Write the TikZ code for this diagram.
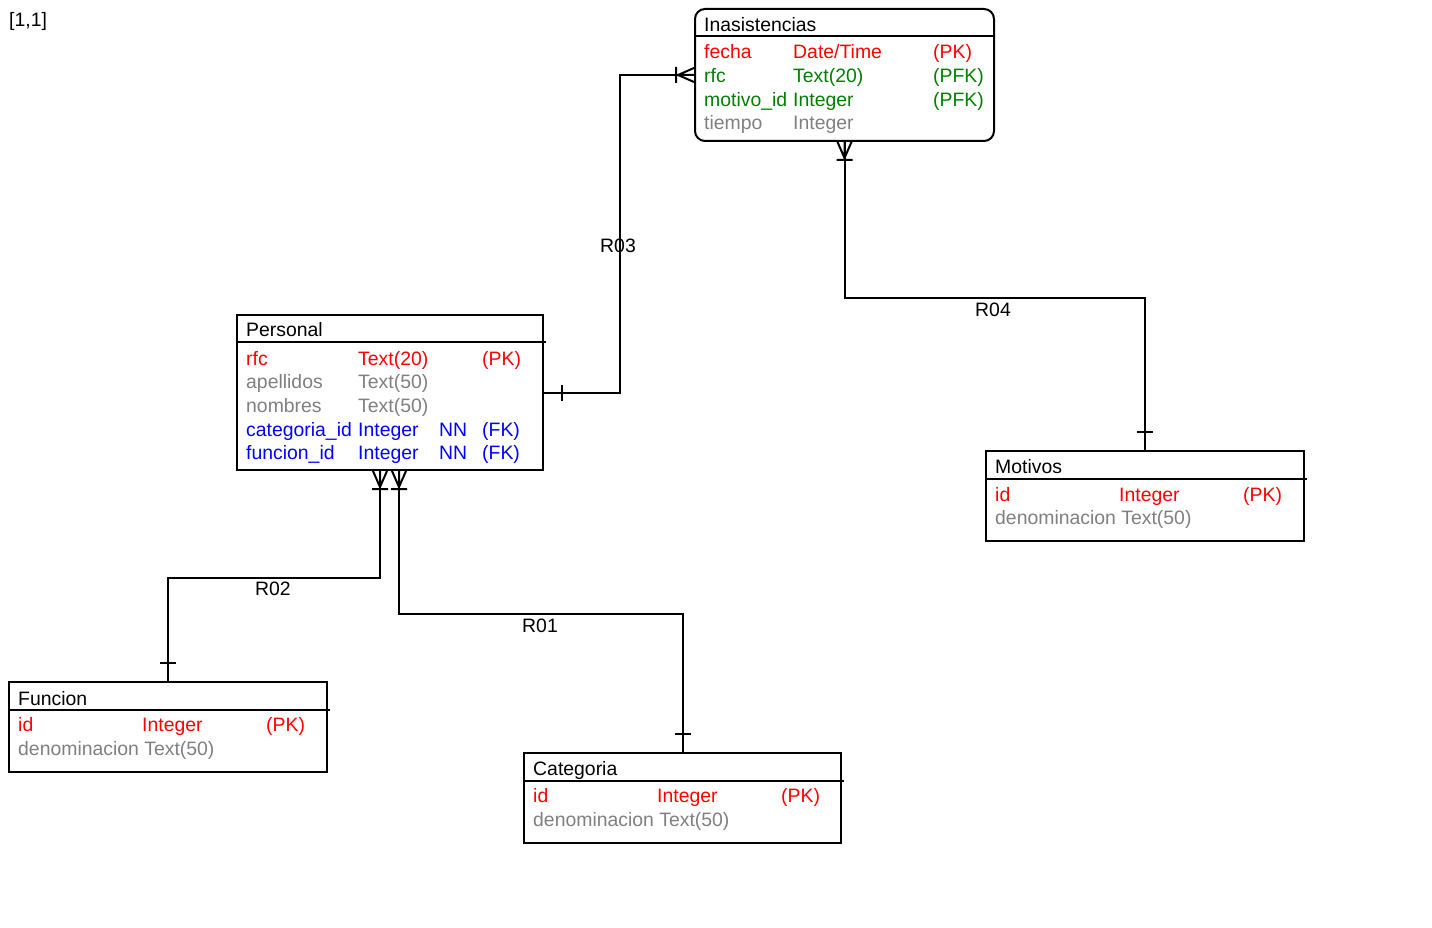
\documentclass[tikz,border=0pt]{standalone}
\usepackage{fontspec}
\setmainfont{Liberation Sans}
\usetikzlibrary{positioning, calc}
\definecolor{KeyRed}{RGB}{255, 0, 0}
\definecolor{FkGreen}{RGB}{0, 128, 0}
\definecolor{AttrGray}{RGB}{128, 128, 128}
\definecolor{FkBlue}{RGB}{0, 0, 255}

\begin{document}
\begin{tikzpicture}[
    x=1pt, y=-1pt,
    every node/.style={font=\fontsize{19.4pt}{23pt}\selectfont, inner sep=0pt},
    entity/.style={draw, line width=2pt},
    fld/.style={anchor=base west},
    rel/.style={line width=2pt},
    many/.pic={\draw[rel] (0,-7) -- (16,0) -- (0,7) (0,0) -- (16,0) (18,-8) -- (18,8);},
    one/.pic={\draw[rel] (18,-8) -- (18,8);}
]
\useasboundingbox[fill=white] (0,0) rectangle (1432,928);
\node[fld] (pos) at (9,27) {[1,1]};

% tables
\node[entity, rounded corners=10pt, minimum width=299pt, minimum height=132pt] (inasist) at (844.5,75) {};
\node[entity, minimum width=306pt, minimum height=155pt] (personal) at (390,392.5) {};
\node[entity, minimum width=318pt, minimum height=90pt] (motivos) at (1145,496) {};
\node[entity, minimum width=318pt, minimum height=90pt] (funcion) at (168,727) {};
\node[entity, minimum width=317pt, minimum height=90pt] (categoria) at (682.5,798) {};

\draw[rel] ([yshift=-28.5pt]inasist.north west) -- ([yshift=-28.5pt]inasist.north east);
\draw[rel] ([yshift=-28pt]personal.north west) -- ([xshift=2pt, yshift=-28pt]personal.north east);
\draw[rel] ([yshift=-28.5pt]motivos.north west) -- ([xshift=2pt, yshift=-28.5pt]motivos.north east);
\draw[rel] ([yshift=-28.5pt]funcion.north west) -- ([xshift=2pt, yshift=-28.5pt]funcion.north east);
\draw[rel] ([yshift=-28.5pt]categoria.north west) -- ([xshift=2pt, yshift=-28.5pt]categoria.north east);

% Inasistencias
\node[fld] (i-title) at (704,31.7) {Inasistencias};
\node[fld, KeyRed] (i-fecha) at (704,59) {fecha};
\node[fld, KeyRed] (i-fecha-t) at (793,59) {Date/Time};
\node[fld, KeyRed] (i-fecha-k) at (933,59) {(PK)};
\node[fld, FkGreen] (i-rfc) at (704,82.7) {rfc};
\node[fld, FkGreen] (i-rfc-t) at (793,82.7) {Text(20)};
\node[fld, FkGreen] (i-rfc-k) at (933,82.7) {(PFK)};
\node[fld, FkGreen] (i-motivo) at (704,106.4) {motivo\_id};
\node[fld, FkGreen] (i-motivo-t) at (793,106.4) {Integer};
\node[fld, FkGreen] (i-motivo-k) at (933,106.4) {(PFK)};
\node[fld, AttrGray] (i-tiempo) at (704,130) {tiempo};
\node[fld, AttrGray] (i-tiempo-t) at (793,130) {Integer};

% Personal
\node[fld] (p-title) at (246,336.7) {Personal};
\node[fld, KeyRed] (p-rfc) at (246,365) {rfc};
\node[fld, KeyRed] (p-rfc-t) at (358,365) {Text(20)};
\node[fld, KeyRed] (p-rfc-k) at (482,365) {(PK)};
\node[fld, AttrGray] (p-apellidos) at (246,388.7) {apellidos};
\node[fld, AttrGray] (p-apellidos-t) at (358,388.7) {Text(50)};
\node[fld, AttrGray] (p-nombres) at (246,412.4) {nombres};
\node[fld, AttrGray] (p-nombres-t) at (358,412.4) {Text(50)};
\node[fld, FkBlue] (p-categoria) at (246,436) {categoria\_id};
\node[fld, FkBlue] (p-categoria-t) at (358,436) {Integer};
\node[fld, FkBlue] (p-categoria-n) at (439,436) {NN};
\node[fld, FkBlue] (p-categoria-k) at (482,436) {(FK)};
\node[fld, FkBlue] (p-funcion) at (246,459.7) {funcion\_id};
\node[fld, FkBlue] (p-funcion-t) at (358,459.7) {Integer};
\node[fld, FkBlue] (p-funcion-n) at (439,459.7) {NN};
\node[fld, FkBlue] (p-funcion-k) at (482,459.7) {(FK)};

% Motivos
\node[fld] (m-title) at (995,473) {Motivos};
\node[fld, KeyRed] (m-id) at (995,501) {id};
\node[fld, KeyRed] (m-id-t) at (1119,501) {Integer};
\node[fld, KeyRed] (m-id-k) at (1243,501) {(PK)};
\node[fld, AttrGray] (m-denom) at (995,524.7) {denominacion Text(50)};

% Funcion
\node[fld] (f-title) at (18,705) {Funcion};
\node[fld, KeyRed] (f-id) at (18,731.7) {id};
\node[fld, KeyRed] (f-id-t) at (142,731.7) {Integer};
\node[fld, KeyRed] (f-id-k) at (266,731.7) {(PK)};
\node[fld, AttrGray] (f-denom) at (18,755.4) {denominacion Text(50)};

% Categoria
\node[fld] (c-title) at (533,775.5) {Categoria};
\node[fld, KeyRed] (c-id) at (533,802.5) {id};
\node[fld, KeyRed] (c-id-t) at (657,802.5) {Integer};
\node[fld, KeyRed] (c-id-k) at (781,802.5) {(PK)};
\node[fld, AttrGray] (c-denom) at (533,826.2) {denominacion Text(50)};

% relationships
\draw[rel] (personal.east) -- ++(76,0) |- (inasist.west);
\pic at (personal.east) {one};
\pic[rotate=180] at (inasist.west) {many};
\node[fld] (r03) at (600,252) {R03};

\draw[rel] (inasist.south) -- ++(0,156) -| (motivos.north);
\pic[rotate=-90] at (inasist.south) {many};
\pic[rotate=90] at (motivos.north) {one};
\node[fld] (r04) at (975,316) {R04};

\draw[rel] ([xshift=-10pt]personal.south) -- ++(0,107) -| (funcion.north);
\pic[rotate=-90] at ([xshift=-10pt]personal.south) {many};
\pic[rotate=90] at (funcion.north) {one};
\node[fld] (r02) at (255,595) {R02};

\draw[rel] ([xshift=9pt]personal.south) -- ++(0,143) -| (categoria.north);
\pic[rotate=-90] at ([xshift=9pt]personal.south) {many};
\pic[rotate=90] at (categoria.north) {one};
\node[fld] (r01) at (522,632) {R01};
\end{tikzpicture}
\end{document}
